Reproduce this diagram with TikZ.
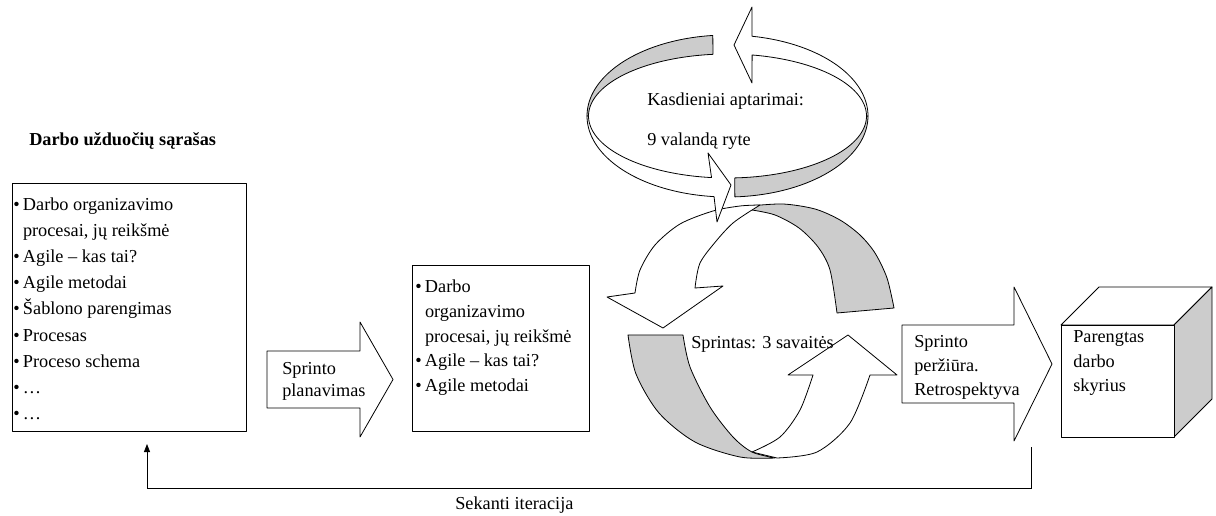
\documentclass[tikz,border=0pt]{standalone}
\usepackage{fontspec}
\setmainfont{Liberation Serif}
\usetikzlibrary{arrows.meta}
\definecolor{ribbongray}{RGB}{204,204,204}
% bullet followed by a fixed gap, so item texts line up
\newcommand\itembul{\makebox[7.3pt][l]{•}}
\newcommand\itemgap{\hspace*{7.3pt}}
\begin{document}
\begin{tikzpicture}[x=0.75pt,y=-0.75pt,
  every node/.style={inner sep=0pt, anchor=base west,
    font=\fontsize{13.7pt}{16pt}\selectfont},
  outline/.style={draw=black, line width=0.6pt, line join=round},
  whiteband/.style={outline, fill=white},
  grayband/.style={outline, fill=ribbongray},
  blockarrow/.style={outline, fill=white},
  listframe/.style={outline, fill=white},
  feedback/.style={draw=black, line width=0.6pt, -{Triangle[length=6pt,width=4.5pt]}}]
\useasboundingbox (0,0) rectangle (1216,516);

% ---------- backlog ----------
\node[font=\fontsize{13.7pt}{16pt}\selectfont\bfseries] (backlogtitle) at (29,146) {Darbo užduočių sąrašas};
\draw[listframe] (12,183) rectangle (246,431);
\node (b1) at (13,211) {\itembul Darbo organizavimo};
\node (b2) at (13,237) {\itemgap procesai, jų reikšmė};
\node (b3) at (13,263) {\itembul Agile – kas tai?};
\node (b4) at (13,289) {\itembul Agile metodai};
\node (b5) at (13,315) {\itembul Šablono parengimas};
\node (b6) at (13,341) {\itembul Procesas};
\node (b7) at (13,367) {\itembul Proceso schema};
\node (b8) at (13,393) {\itembul …};
\node (b9) at (13,419) {\itembul …};

% ---------- sprint planning ----------
\draw[blockarrow] (267,351) -- (360,351) -- (360,322) -- (393,379.5) -- (360,437) -- (360,408) -- (267,408) -- cycle;
\node (plan1) at (282,374) {Sprinto};
\node (plan2) at (282,396) {planavimas};

% ---------- sprint backlog ----------
\draw[listframe] (412,265) rectangle (589,431);
\node (s1) at (415,293) {\itembul Darbo};
\node (s2) at (415,317.5) {\itemgap organizavimo};
\node (s3) at (415,342) {\itemgap procesai, jų reikšmė};
\node (s4) at (415,366.5) {\itembul Agile – kas tai?};
\node (s5) at (415,391) {\itembul Agile metodai};

% ---------- sprint cycle ----------
% inner side of the ribbon, upper right
\filldraw[grayband] plot[smooth] coordinates {(750,206) (783,204) (815,209) (840,220) (860,235) (875,253) (887,278) (894,308)}
  -- (837,313)
  -- plot[smooth] coordinates {(837,313) (830,270) (818,247) (799,228) (775,215) (752,210)} -- cycle;
% inner side of the ribbon, lower left
\filldraw[grayband] (628,335) -- (683,335)
  -- plot[smooth] coordinates {(683,335) (690,367) (710,407) (733,437) (752,452) (775,458)}
  -- plot[smooth] coordinates {(775,458) (740,457) (695,442) (659,413) (636,374) (628,335)} -- cycle;
% arrow going down on the left
\filldraw[whiteband] plot[smooth] coordinates {(695,288) (700,263) (717,240) (733,223) (752,210)}
  -- (760,205)
  -- plot[smooth] coordinates {(760,205) (740,206) (713,211) (680,224) (655,245) (640,270) (635,293)}
  -- (607,297) -- (663,328) -- (723,286) -- cycle;
% arrow going up on the right
\filldraw[whiteband] plot[smooth] coordinates {(752,452) (780,437) (800,410) (813,375)}
  -- (788,375) -- (848,335) -- (897,375) -- (870,375)
  -- plot[smooth] coordinates {(870,375) (850,423) (817,452) (777,458)} -- cycle;
\node (sprint) at (691,349) {Sprintas: 3 savaitės};

% ---------- daily meetings ring ----------
% inner side, upper left
\filldraw[grayband] plot[domain=-96:-180,samples=40] ({727.5+140.5*cos(\x)},{116+81*sin(\x)})
  -- plot[domain=-180:-96,samples=40] ({727.5+139*cos(\x)},{116+62*sin(\x)}) -- cycle;
% inner side, lower right
\filldraw[grayband] plot[domain=87:0,samples=40] ({727.5+140.5*cos(\x)},{116+81*sin(\x)})
  -- plot[domain=0:87,samples=40] ({727.5+139*cos(\x)},{116+62*sin(\x)}) -- cycle;
% front, lower left, ending in a head
\filldraw[whiteband] plot[domain=180:95.5,samples=40] ({727.5+140.5*cos(\x)},{116+81*sin(\x)})
  -- (717,222) -- (731,185) -- (708,153)
  -- plot[domain=96.6:180,samples=40] ({727.5+139*cos(\x)},{116+62*sin(\x)}) -- cycle;
% front, upper right, ending in a head
\filldraw[whiteband] plot[domain=0:-80,samples=40] ({727.5+140.5*cos(\x)},{116+81*sin(\x)})
  -- (752,7) -- (734,45) -- (752,83)
  -- plot[domain=-79.8:0,samples=40] ({727.5+139*cos(\x)},{116+62*sin(\x)}) -- cycle;
\node (daily1) at (647,106) {Kasdieniai aptarimai:};
\node (daily2) at (647,146) {9 valandą ryte};

% ---------- sprint review ----------
\draw[blockarrow] (902,325) -- (1014,325) -- (1014,287) -- (1052,364) -- (1014,441) -- (1014,403) -- (902,403) -- cycle;
\node (rev1) at (914,347) {Sprinto};
\node (rev2) at (914,371) {peržiūra.};
\node (rev3) at (914,395) {Retrospektyva};

% ---------- finished chapter (cube) ----------
\filldraw[outline, fill=white] (1061,325) -- (1099,287) -- (1212,287) -- (1174,325) -- cycle;
\filldraw[outline, fill=ribbongray] (1174,325) -- (1212,287) -- (1212,399) -- (1174,437) -- cycle;
\filldraw[outline, fill=white] (1061,325) rectangle (1174,437);
\node (done1) at (1073,343) {Parengtas};
\node (done2) at (1073,367) {darbo};
\node (done3) at (1073,391) {skyrius};

% ---------- next iteration ----------
\coordinate (fbstart) at (1031,447);
\coordinate (fbend) at (147,444);
\draw[feedback] (fbstart) -- ++(0,41) -| (fbend);
\node (next) at (455,509) {Sekanti iteracija};
\end{tikzpicture}
\end{document}
